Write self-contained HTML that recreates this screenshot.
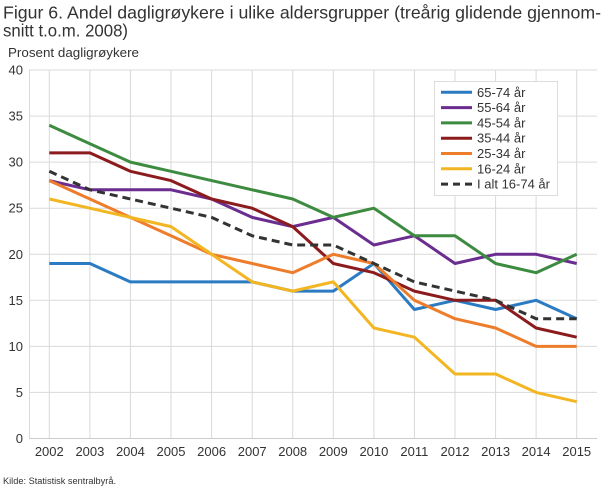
<!DOCTYPE html>
<html><head><meta charset="utf-8"><style>
html,body{margin:0;padding:0;background:#fff;}
svg{display:block;}
text{font-family:"Liberation Sans",sans-serif;fill:#333;}
</style></head><body>
<svg width="610" height="488" viewBox="0 0 610 488" xmlns="http://www.w3.org/2000/svg">
<text x="3" y="18.5" font-size="17.5" textLength="598" lengthAdjust="spacingAndGlyphs" fill="#222">Figur 6. Andel dagligrøykere i ulike aldersgrupper (treårig glidende gjennom-</text>
<text x="3" y="36.5" font-size="17.5" textLength="125" lengthAdjust="spacingAndGlyphs" fill="#222">snitt t.o.m. 2008)</text>
<text x="8" y="57" font-size="12.5" textLength="131" lengthAdjust="spacingAndGlyphs">Prosent dagligrøykere</text>
<g stroke="#d9d9d9" stroke-width="1" fill="none">
<line x1="29" y1="70" x2="597" y2="70"/>
<line x1="29" y1="116.1" x2="597" y2="116.1"/>
<line x1="29" y1="162.1" x2="597" y2="162.1"/>
<line x1="29" y1="208.2" x2="597" y2="208.2"/>
<line x1="29" y1="254.3" x2="597" y2="254.3"/>
<line x1="29" y1="300.3" x2="597" y2="300.3"/>
<line x1="29" y1="346.4" x2="597" y2="346.4"/>
<line x1="29" y1="392.4" x2="597" y2="392.4"/>
<line x1="29.5" y1="70" x2="29.5" y2="438.5"/>
<line x1="49.3" y1="70" x2="49.3" y2="438.5"/>
<line x1="89.9" y1="70" x2="89.9" y2="438.5"/>
<line x1="130.4" y1="70" x2="130.4" y2="438.5"/>
<line x1="171" y1="70" x2="171" y2="438.5"/>
<line x1="211.6" y1="70" x2="211.6" y2="438.5"/>
<line x1="252.2" y1="70" x2="252.2" y2="438.5"/>
<line x1="292.7" y1="70" x2="292.7" y2="438.5"/>
<line x1="333.3" y1="70" x2="333.3" y2="438.5"/>
<line x1="373.9" y1="70" x2="373.9" y2="438.5"/>
<line x1="414.4" y1="70" x2="414.4" y2="438.5"/>
<line x1="455" y1="70" x2="455" y2="438.5"/>
<line x1="495.6" y1="70" x2="495.6" y2="438.5"/>
<line x1="536.1" y1="70" x2="536.1" y2="438.5"/>
<line x1="576.7" y1="70" x2="576.7" y2="438.5"/>
<line x1="29" y1="438.5" x2="597" y2="438.5" stroke="#cccccc"/>
</g>
<g font-size="13" text-anchor="end">
<text x="23" y="74.5">40</text>
<text x="23" y="120.6">35</text>
<text x="23" y="166.6">30</text>
<text x="23" y="212.7">25</text>
<text x="23" y="258.8">20</text>
<text x="23" y="304.8">15</text>
<text x="23" y="350.9">10</text>
<text x="23" y="396.9">5</text>
<text x="23" y="443">0</text>
</g>
<g font-size="13" text-anchor="middle">
<text x="49.3" y="456">2002</text>
<text x="89.9" y="456">2003</text>
<text x="130.4" y="456">2004</text>
<text x="171" y="456">2005</text>
<text x="211.6" y="456">2006</text>
<text x="252.2" y="456">2007</text>
<text x="292.7" y="456">2008</text>
<text x="333.3" y="456">2009</text>
<text x="373.9" y="456">2010</text>
<text x="414.4" y="456">2011</text>
<text x="455" y="456">2012</text>
<text x="495.6" y="456">2013</text>
<text x="536.1" y="456">2014</text>
<text x="576.7" y="456">2015</text>
</g>
<g fill="none" stroke-width="3" stroke-linejoin="round" stroke-linecap="butt">
<polyline stroke="#2b7bc3" points="49.3,263.5 89.9,263.5 130.4,281.9 171,281.9 211.6,281.9 252.2,281.9 292.7,291.1 333.3,291.1 373.9,263.5 414.4,309.5 455,300.3 495.6,309.5 536.1,300.3 576.7,318.7"/>
<polyline stroke="#6b2d8f" points="49.3,180.6 89.9,189.8 130.4,189.8 171,189.8 211.6,199 252.2,217.4 292.7,226.6 333.3,217.4 373.9,245 414.4,235.8 455,263.5 495.6,254.3 536.1,254.3 576.7,263.5"/>
<polyline stroke="#3d8b40" points="49.3,125.3 89.9,143.7 130.4,162.1 171,171.3 211.6,180.6 252.2,189.8 292.7,199 333.3,217.4 373.9,208.2 414.4,235.8 455,235.8 495.6,263.5 536.1,272.7 576.7,254.3"/>
<polyline stroke="#8c1b1d" points="49.3,152.9 89.9,152.9 130.4,171.3 171,180.6 211.6,199 252.2,208.2 292.7,226.6 333.3,263.5 373.9,272.7 414.4,291.1 455,300.3 495.6,300.3 536.1,328 576.7,337.2"/>
<polyline stroke="#ee7d2b" points="49.3,180.6 89.9,199 130.4,217.4 171,235.8 211.6,254.3 252.2,263.5 292.7,272.7 333.3,254.3 373.9,263.5 414.4,300.3 455,318.7 495.6,328 536.1,346.4 576.7,346.4"/>
<polyline stroke="#f2b622" points="49.3,199 89.9,208.2 130.4,217.4 171,226.6 211.6,254.3 252.2,281.9 292.7,291.1 333.3,281.9 373.9,328 414.4,337.2 455,374 495.6,374 536.1,392.4 576.7,401.7"/>
<polyline stroke="#333333" stroke-dasharray="8,5" points="49.3,171.3 89.9,189.8 130.4,199 171,208.2 211.6,217.4 252.2,235.8 292.7,245 333.3,245 373.9,263.5 414.4,281.9 455,291.1 495.6,300.3 536.1,318.7 576.7,318.7"/>
</g>
<rect x="434.5" y="81.5" width="123" height="114" fill="#fff" stroke="#dddddd" stroke-width="1"/>
<g stroke-width="3" fill="none">
<line x1="441" y1="92.3" x2="472" y2="92.3" stroke="#2b7bc3"/>
<line x1="441" y1="107.6" x2="472" y2="107.6" stroke="#6b2d8f"/>
<line x1="441" y1="122.9" x2="472" y2="122.9" stroke="#3d8b40"/>
<line x1="441" y1="138.2" x2="472" y2="138.2" stroke="#8c1b1d"/>
<line x1="441" y1="153.5" x2="472" y2="153.5" stroke="#ee7d2b"/>
<line x1="441" y1="168.8" x2="472" y2="168.8" stroke="#f2b622"/>
<line x1="441" y1="184.1" x2="472" y2="184.1" stroke="#333333" stroke-dasharray="7,5"/>
</g>
<g font-size="13">
<text x="477" y="96.8">65-74 år</text>
<text x="477" y="112.1">55-64 år</text>
<text x="477" y="127.4">45-54 år</text>
<text x="477" y="142.7">35-44 år</text>
<text x="477" y="158">25-34 år</text>
<text x="477" y="173.3">16-24 år</text>
<text x="477" y="188.6">I alt 16-74 år</text>
</g>
<text x="3" y="484" font-size="9" textLength="113" lengthAdjust="spacingAndGlyphs">Kilde: Statistisk sentralbyrå.</text>
</svg>
</body></html>
